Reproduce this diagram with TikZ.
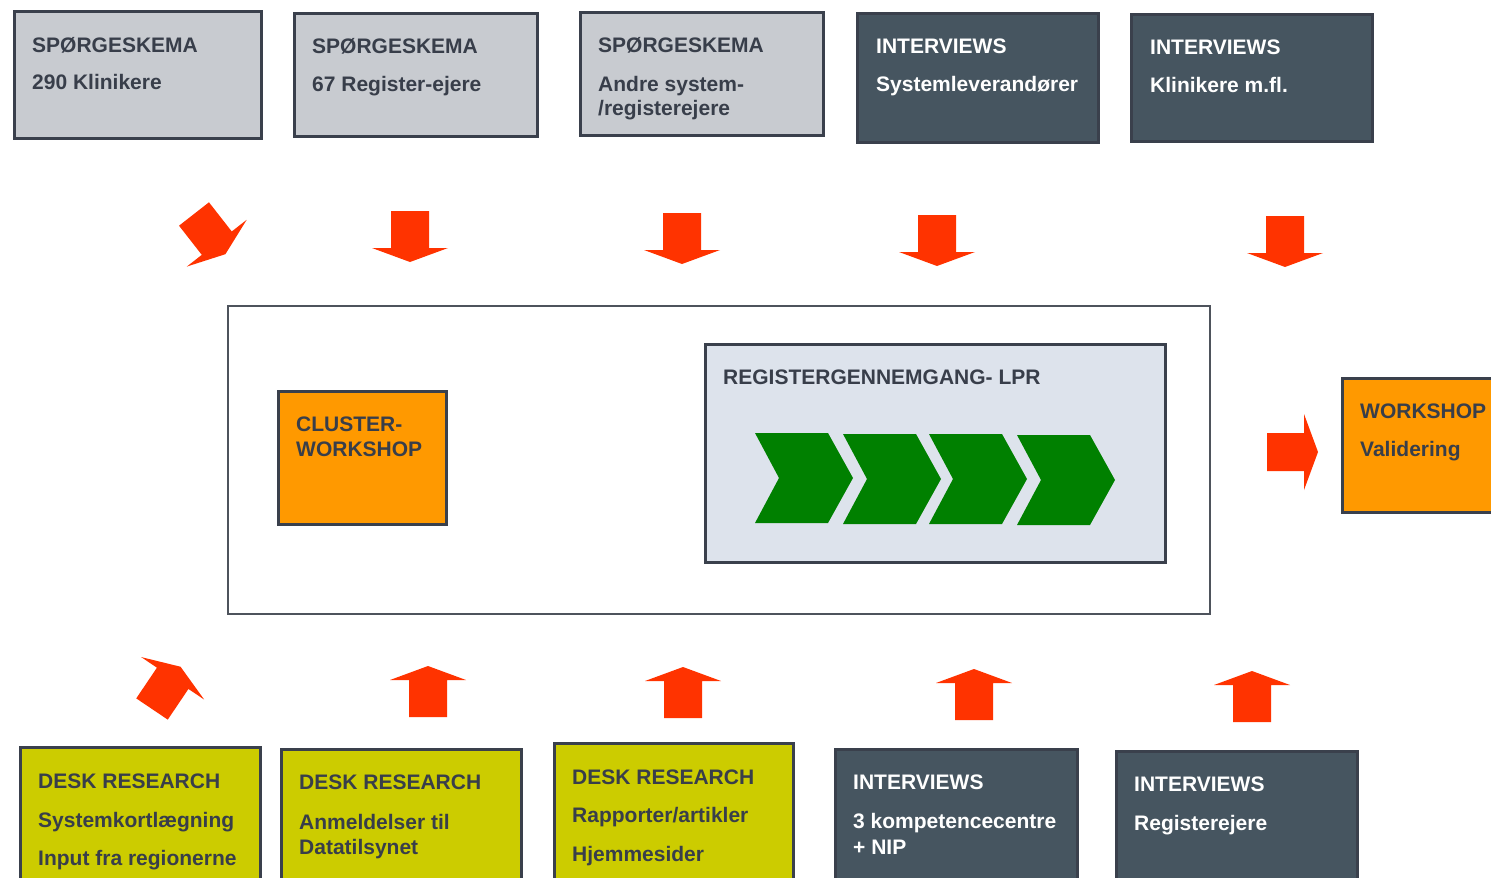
\documentclass[tikz,border=0pt]{standalone}
\usepackage{fontspec}
\setmainfont{Liberation Sans}
\definecolor{bordc}{HTML}{3A404C}
\definecolor{txtc}{HTML}{383E4A}
\definecolor{grayfill}{HTML}{C8CBD0}
\definecolor{darkfill}{HTML}{465560}
\definecolor{orangefill}{HTML}{FF9900}
\definecolor{yellowfill}{HTML}{CCCC00}
\definecolor{arrowred}{HTML}{FF3300}
\definecolor{chevgreen}{HTML}{008000}
\definecolor{regfill}{HTML}{DDE3EC}
\definecolor{framec}{HTML}{4E535C}
\tikzset{
  boxbase/.style={draw=bordc, line width=2.5pt, anchor=north west, inner sep=0pt},
  graybox/.style={boxbase, fill=grayfill},
  darkbox/.style={boxbase, fill=darkfill},
  orangebox/.style={boxbase, fill=orangefill},
  yellowbox/.style={boxbase, fill=yellowfill},
  regbox/.style={boxbase, fill=regfill},
  txt/.style={anchor=base west, inner sep=0pt, text=txtc, font=\fontsize{21}{25}\selectfont\bfseries},
  wtxt/.style={txt, text=white},
  redarrow/.pic={\fill[arrowred] (-19,0) -- (-19,-37) -- (-38,-37) -- (0,-51) -- (38,-37) -- (19,-37) -- (19,0) -- cycle;},
  chevron/.pic={\fill[chevgreen] (0,0) -- (73,0) -- (98,45) -- (73,90) -- (0,90) -- (24,45) -- cycle;}
}
\begin{document}
\begin{tikzpicture}[x=1pt,y=-1pt]
\clip (0,0) rectangle (1491,878);
\fill[white] (0,0) rectangle (1491,878);

% top row boxes
\node[graybox, minimum width=247pt, minimum height=127pt] (b1) at (13,10) {};
\node[txt] (b1a) at (32,52) {SPØRGESKEMA};
\node[txt] (b1b) at (32,89) {290 Klinikere};

\node[graybox, minimum width=243pt, minimum height=123pt] (b2) at (293,12) {};
\node[txt] (b2a) at (312,53) {SPØRGESKEMA};
\node[txt] (b2b) at (312,91) {67 Register-ejere};

\node[graybox, minimum width=243pt, minimum height=123pt] (b3) at (579,11) {};
\node[txt] (b3a) at (598,52) {SPØRGESKEMA};
\node[txt] (b3b) at (598,91) {Andre system-};
\node[txt] (b3c) at (598,115) {/registerejere};

\node[darkbox, minimum width=241pt, minimum height=129pt] (b4) at (856,12) {};
\node[wtxt] (b4a) at (876,53) {INTERVIEWS};
\node[wtxt] (b4b) at (876,91) {Systemleverandører};

\node[darkbox, minimum width=241pt, minimum height=127pt] (b5) at (1130,13) {};
\node[wtxt] (b5a) at (1150,54) {INTERVIEWS};
\node[wtxt] (b5b) at (1150,92) {Klinikere m.fl.};

% down arrows
\pic[rotate=-142] at (194,214) {redarrow};
\pic[rotate=180] at (410,211) {redarrow};
\pic[rotate=180] at (682,213) {redarrow};
\pic[rotate=180] at (937,215) {redarrow};
\pic[rotate=180] at (1285,216) {redarrow};

% center frame
\node[draw=framec, line width=2pt, fill=white, anchor=north west, minimum width=982pt, minimum height=308pt, inner sep=0pt] (frame) at (227,305) {};

\node[orangebox, minimum width=168pt, minimum height=133pt] (cw) at (277,390) {};
\node[txt] (cwa) at (296,431) {CLUSTER-};
\node[txt] (cwb) at (296,456) {WORKSHOP};

\node[regbox, minimum width=460pt, minimum height=218pt] (reg) at (704,343) {};
\node[txt] (rega) at (723,384) {REGISTERGENNEMGANG- LPR};
\pic at (755,433) {chevron};
\pic at (843,434) {chevron};
\pic at (929,434) {chevron};
\pic at (1017,435) {chevron};

% right arrow and workshop
\pic[rotate=-90] at (1267,452) {redarrow};
\node[orangebox, minimum width=170pt, minimum height=134pt] (ws) at (1341,377) {};
\node[txt] (wsa) at (1360,418) {WORKSHOP};
\node[txt] (wsb) at (1360,456) {Validering};

% up arrows
\pic[rotate=-34] at (152,709) {redarrow};
\pic at (428,717) {redarrow};
\pic at (683,718) {redarrow};
\pic at (974,720) {redarrow};
\pic at (1252,722) {redarrow};

% bottom row boxes
\node[yellowbox, minimum width=240pt, minimum height=150pt] (c1) at (19,746) {};
\node[txt] (c1a) at (38,788) {DESK RESEARCH};
\node[txt] (c1b) at (38,827) {Systemkortlægning};
\node[txt] (c1c) at (38,865) {Input fra regionerne};

\node[yellowbox, minimum width=240pt, minimum height=150pt] (c2) at (280,748) {};
\node[txt] (c2a) at (299,789) {DESK RESEARCH};
\node[txt] (c2b) at (299,829) {Anmeldelser til};
\node[txt] (c2c) at (299,854) {Datatilsynet};

\node[yellowbox, minimum width=239pt, minimum height=150pt] (c3) at (553,742) {};
\node[txt] (c3a) at (572,784) {DESK RESEARCH};
\node[txt] (c3b) at (572,822) {Rapporter/artikler};
\node[txt] (c3c) at (572,861) {Hjemmesider};

\node[darkbox, minimum width=242pt, minimum height=150pt] (c4) at (834,748) {};
\node[wtxt] (c4a) at (853,789) {INTERVIEWS};
\node[wtxt] (c4b) at (853,828) {3 kompetencecentre};
\node[wtxt] (c4c) at (853,854) {+ NIP};

\node[darkbox, minimum width=241pt, minimum height=150pt] (c5) at (1115,750) {};
\node[wtxt] (c5a) at (1134,791) {INTERVIEWS};
\node[wtxt] (c5b) at (1134,830) {Registerejere};
\end{tikzpicture}
\end{document}
